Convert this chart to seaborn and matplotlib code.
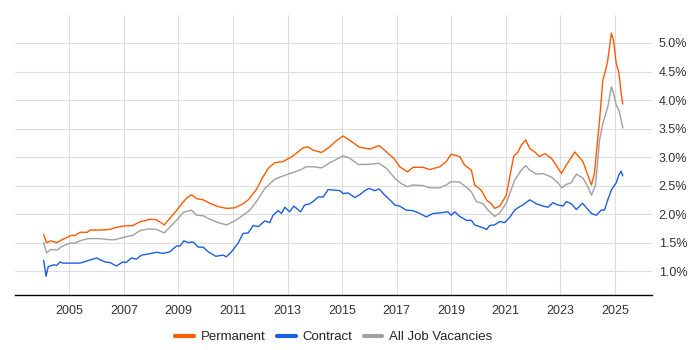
import matplotlib
matplotlib.use("Agg")
import matplotlib.pyplot as plt
import matplotlib.ticker as mticker
import seaborn as sns
import pandas as pd

# values (year, % of job ads)
perm_year = [2004.06, 2004.17, 2004.32, 2004.54, 2004.78, 2005.09, 2005.2, 2005.39, 2005.66, 2005.76,
             2006.12, 2006.49, 2006.67, 2006.98, 2007.34, 2007.59, 2007.83, 2007.92, 2008.2, 2008.48,
             2008.93, 2009.12, 2009.3, 2009.48, 2009.67, 2009.91, 2010.15, 2010.46, 2010.76, 2011.07,
             2011.37, 2011.56, 2011.86, 2012.1, 2012.29, 2012.53, 2012.84, 2013.2, 2013.57, 2013.75,
             2013.94, 2014.25, 2014.55, 2014.8, 2015.04, 2015.35, 2015.65, 2016.02, 2016.36, 2016.63,
             2016.93, 2017.11, 2017.4, 2017.6, 2017.97, 2018.21, 2018.58, 2018.82, 2019.0, 2019.31,
             2019.49, 2019.74, 2019.86, 2020.1, 2020.29, 2020.47, 2020.59, 2020.78, 2021.02, 2021.29,
             2021.45, 2021.57, 2021.73, 2021.88, 2022.06, 2022.24, 2022.43, 2022.67, 2022.85, 2023.04,
             2023.22, 2023.4, 2023.53, 2023.83, 2024.01, 2024.14, 2024.25, 2024.44, 2024.56, 2024.68,
             2024.74, 2024.87, 2024.95, 2025.05, 2025.15, 2025.23, 2025.29]
perm_pct = [1.64, 1.50, 1.53, 1.50, 1.56, 1.63, 1.62, 1.68, 1.68, 1.72,
            1.72, 1.73, 1.76, 1.79, 1.80, 1.865, 1.89, 1.91, 1.90, 1.81,
            2.06, 2.18, 2.28, 2.34, 2.27, 2.25, 2.19, 2.13, 2.10, 2.11,
            2.18, 2.25, 2.43, 2.65, 2.80, 2.90, 2.92, 3.02, 3.16, 3.18,
            3.12, 3.08, 3.18, 3.29, 3.37, 3.27, 3.17, 3.14, 3.20, 3.09,
            2.96, 2.83, 2.74, 2.82, 2.82, 2.78, 2.83, 2.92, 3.05, 3.01,
            2.86, 2.77, 2.51, 2.42, 2.25, 2.18, 2.10, 2.14, 2.33, 3.01,
            3.09, 3.21, 3.30, 3.15, 3.09, 3.01, 3.06, 2.98, 2.86, 2.71,
            2.86, 2.99, 3.09, 2.92, 2.68, 2.51, 2.71, 3.65, 4.35, 4.56,
            4.70, 5.17, 5.05, 4.64, 4.47, 4.12, 3.93]

contract_year = [2004.06, 2004.15, 2004.23, 2004.43, 2004.54, 2004.66, 2004.78, 2005.03, 2005.39, 2005.66,
                 2006.0, 2006.31, 2006.49, 2006.73, 2006.96, 2007.08, 2007.28, 2007.46, 2007.65, 2007.9,
                 2008.2, 2008.45, 2008.69, 2008.93, 2009.06, 2009.2, 2009.36, 2009.54, 2009.73, 2009.91,
                 2010.09, 2010.37, 2010.64, 2010.76, 2010.95, 2011.19, 2011.37, 2011.56, 2011.74, 2011.93,
                 2012.17, 2012.35, 2012.47, 2012.66, 2012.78, 2012.9, 2013.08, 2013.23, 2013.48, 2013.63,
                 2013.81, 2013.94, 2014.12, 2014.31, 2014.49, 2014.73, 2014.92, 2015.04, 2015.22, 2015.47,
                 2015.65, 2015.83, 2015.99, 2016.2, 2016.36, 2016.57, 2016.75, 2016.93, 2017.11, 2017.35,
                 2017.6, 2017.85, 2018.09, 2018.33, 2018.58, 2018.88, 2019.0, 2019.13, 2019.31, 2019.56,
                 2019.74, 2019.86, 2020.04, 2020.22, 2020.3, 2020.41, 2020.59, 2020.78, 2020.96, 2021.14,
                 2021.33, 2021.51, 2021.63, 2021.88, 2022.12, 2022.37, 2022.55, 2022.73, 2022.91, 2023.1,
                 2023.22, 2023.4, 2023.59, 2023.81, 2023.96, 2024.14, 2024.32, 2024.5, 2024.62, 2024.74,
                 2024.87, 2025.05, 2025.14, 2025.23, 2025.29]
contract_pct = [1.19, 0.91, 1.08, 1.11, 1.10, 1.16, 1.14, 1.14, 1.14, 1.18,
                1.23, 1.16, 1.15, 1.09, 1.16, 1.15, 1.23, 1.21, 1.28, 1.30,
                1.33, 1.31, 1.34, 1.44, 1.44, 1.53, 1.50, 1.51, 1.42, 1.42,
                1.34, 1.26, 1.28, 1.25, 1.34, 1.49, 1.66, 1.67, 1.80, 1.78,
                1.88, 1.85, 1.98, 2.06, 2.01, 2.12, 2.04, 2.14, 2.04, 2.16,
                2.18, 2.22, 2.30, 2.30, 2.43, 2.42, 2.41, 2.36, 2.37, 2.29,
                2.34, 2.41, 2.45, 2.41, 2.44, 2.33, 2.25, 2.16, 2.14, 2.07,
                2.06, 2.01, 1.95, 2.01, 2.02, 2.04, 1.98, 2.04, 1.96, 1.89,
                1.89, 1.81, 1.78, 1.75, 1.73, 1.80, 1.81, 1.87, 1.85, 1.94,
                2.07, 2.13, 2.16, 2.25, 2.18, 2.14, 2.12, 2.20, 2.16, 2.14,
                2.22, 2.18, 2.08, 2.19, 2.11, 2.01, 1.98, 2.07, 2.07, 2.25,
                2.42, 2.55, 2.68, 2.75, 2.67]

all_year = [2004.06, 2004.17, 2004.32, 2004.56, 2004.72, 2005.03, 2005.2, 2005.45, 2005.7, 2006.12,
            2006.49, 2006.67, 2006.98, 2007.34, 2007.59, 2007.9, 2008.2, 2008.48, 2008.93, 2009.18,
            2009.48, 2009.67, 2009.91, 2010.15, 2010.46, 2010.76, 2011.07, 2011.37, 2011.62, 2011.86,
            2012.17, 2012.53, 2012.84, 2013.08, 2013.45, 2013.69, 2013.94, 2014.25, 2014.55, 2014.8,
            2015.04, 2015.28, 2015.59, 2015.89, 2016.36, 2016.63, 2016.93, 2017.18, 2017.4, 2017.6,
            2017.97, 2018.21, 2018.58, 2018.82, 2019.0, 2019.31, 2019.56, 2019.74, 2019.92, 2020.17,
            2020.35, 2020.59, 2020.78, 2021.02, 2021.33, 2021.57, 2021.73, 2021.88, 2022.12, 2022.37,
            2022.67, 2022.91, 2023.06, 2023.22, 2023.4, 2023.59, 2023.83, 2024.01, 2024.14, 2024.29,
            2024.44, 2024.56, 2024.74, 2024.87, 2024.95, 2025.05, 2025.15, 2025.23, 2025.29]
all_pct = [1.50, 1.32, 1.38, 1.37, 1.43, 1.49, 1.49, 1.54, 1.57, 1.57,
           1.55, 1.55, 1.59, 1.63, 1.71, 1.74, 1.73, 1.67, 1.89, 2.03,
           2.07, 1.98, 1.97, 1.91, 1.85, 1.81, 1.88, 1.98, 2.07, 2.22,
           2.45, 2.61, 2.67, 2.71, 2.77, 2.83, 2.83, 2.81, 2.90, 2.96,
           3.02, 2.98, 2.87, 2.87, 2.89, 2.80, 2.63, 2.53, 2.48, 2.51,
           2.50, 2.46, 2.46, 2.51, 2.57, 2.56, 2.47, 2.39, 2.22, 2.18,
           2.07, 1.96, 2.02, 2.19, 2.60, 2.77, 2.85, 2.77, 2.70, 2.71,
           2.65, 2.55, 2.46, 2.52, 2.55, 2.70, 2.63, 2.48, 2.33, 2.51,
           3.30, 3.59, 3.88, 4.23, 4.12, 3.91, 3.82, 3.65, 3.51]

series_names = ["Permanent", "Contract", "All Job Vacancies"]
series_colors = ["#ff5a00", "#1a5fdf", "#a0a0a0"]
year_ticks = list(range(2005, 2026, 2))
pct_ticks = [1.0, 1.5, 2.0, 2.5, 3.0, 3.5, 4.0, 4.5, 5.0]

df = pd.concat([
    pd.DataFrame({"year": perm_year, "pct": perm_pct, "series": series_names[0]}),
    pd.DataFrame({"year": contract_year, "pct": contract_pct, "series": series_names[1]}),
    pd.DataFrame({"year": all_year, "pct": all_pct, "series": series_names[2]}),
])

sns.set_style("white")
plt.rcParams["font.family"] = ["Liberation Sans", "DejaVu Sans"]

fig = plt.figure(figsize=(7, 3.5), dpi=100)
ax = fig.add_axes([0.021, 0.157, 0.91, 0.80])

# draw in reverse so Permanent ends up on top
for name, color in reversed(list(zip(series_names, series_colors))):
    sub = df[df["series"] == name]
    sns.lineplot(data=sub, x="year", y="pct", color=color, linewidth=1.0,
                 estimator=None, sort=False, ax=ax, label=name)

ax.set_xlim(2003.0, 2026.35)
ax.set_ylim(0.58, 5.49)
ax.set_xticks(year_ticks)
ax.set_yticks(pct_ticks)
ax.yaxis.set_major_formatter(mticker.FuncFormatter(lambda v, _: f"{v:.1f}%"))
ax.yaxis.tick_right()
ax.set_xlabel("")
ax.set_ylabel("")
ax.grid(True, color="#dddddd", linewidth=0.8)
ax.set_axisbelow(True)
for side in ["left", "right", "top"]:
    ax.spines[side].set_visible(False)
ax.spines["bottom"].set_color("black")
ax.spines["bottom"].set_linewidth(1.0)
ax.tick_params(axis="x", length=4, width=1, color="black", labelsize=9, labelcolor="#333333")
ax.tick_params(axis="y", length=0, labelsize=9, labelcolor="#333333", pad=5)

handles, labels = ax.get_legend_handles_labels()
order = [labels.index(n) for n in series_names]
ax.get_legend().remove()
leg = fig.legend([handles[i] for i in order], series_names, loc="lower center",
                 bbox_to_anchor=(0.477, -0.015), ncol=3, frameon=False, fontsize=9.5,
                 handlelength=1.4, handletextpad=0.5, columnspacing=0.9)
for line in leg.get_lines():
    line.set_linewidth(3)

fig.savefig("out.png", dpi=100)
